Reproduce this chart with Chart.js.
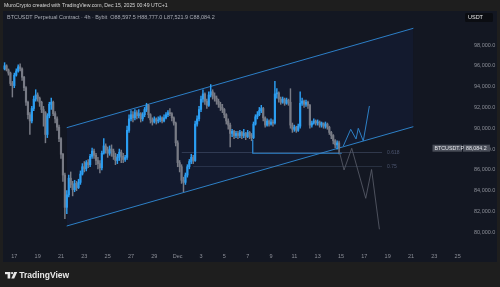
<!DOCTYPE html>
<html>
<head>
<meta charset="utf-8">
<script src="https://cdn.jsdelivr.net/npm/chart.js@4.4.1/dist/chart.umd.min.js"></script>
<style>
  html, body { margin: 0; padding: 0; background: #1e1e1e; }
</style>
</head>
<body>
<canvas id="myChart" width="500" height="287"></canvas>
<script>
// x values are days counted from Nov 1 (Dec 1 = 31)
const firstCandleDay = 16 + 4 / 24   // Nov 16 04:00
const candleHours = 4
const firstOpen = 95700

const closes = [
  96000, 95600, 95300, 94300, 94100, 95100, 95500, 95900, 95700, 94900,
  93900, 92500, 91300, 90700, 91900, 92800, 93200, 92900, 92500, 91800,
  91500, 89400, 91200, 92300, 92500, 91400, 90900, 90100, 89000, 87500,
  85500, 82400, 83600, 85200, 84600, 84100, 84700, 84300, 84800, 85600,
  86300, 86100, 86700, 86500, 87300, 87800, 87400, 86900, 86600, 86200,
  87600, 88300, 87900, 87600, 88000, 87800, 87300, 86900, 87200, 87700,
  87300, 87000, 87200, 89800, 90900, 91300, 91000, 91500, 91200, 91400,
  90900, 91300, 91800, 92200, 91300, 90800, 90600, 90900, 90700, 90800,
  91000, 90700, 91000, 91300, 91500, 91400, 91000, 90500, 88600, 86700,
  86300, 85000, 84800, 85500, 86300, 86800, 87200, 86900, 90400, 90900,
  91800, 92800, 93300, 92600, 92200, 93200, 93500, 93100, 92900, 92600,
  92300, 92000, 91800, 91300, 90700, 90300, 89500, 89700, 89300, 89500,
  89300, 89600, 89300, 89500, 89200, 89600, 89300, 89100, 90400, 91100,
  91300, 91700, 91900, 91000, 90300, 90700, 90400, 90600, 90500, 93300,
  93400, 92800, 92500, 92800, 92400, 92700, 92500, 90300, 89900, 90100,
  89800, 90200, 92400, 92600, 92300, 92500, 92200, 90300, 90500, 90700,
  90500, 90600, 90300, 90500, 90200, 90400, 90100, 89600, 89300, 88800,
  88400, 88597.5, 88084.2
]
const highs = [
  96300, 96100, 95700, 95400, 94500, 95300, 95700, 96100, 96200, 95800,
  95000, 94000, 92600, 91500, 92100, 93100, 93700, 93400, 93000, 92600,
  92100, 91600, 91400, 92500, 92900, 92600, 91600, 91100, 90300, 89100,
  87600, 85700, 84000, 85500, 85800, 84900, 85000, 84900, 85100, 85900,
  86600, 86800, 86900, 87000, 87500, 88100, 88000, 87600, 87200, 86900,
  87800, 89000, 88500, 88200, 88300, 88400, 88000, 87600, 87500, 88000,
  87900, 87600, 87400, 90200, 91300, 91700, 91600, 91800, 91700, 91800,
  91500, 91500, 92000, 92400, 92300, 91400, 91000, 91100, 91000, 91100,
  91200, 91100, 91300, 91500, 91700, 91900, 91500, 91100, 90600, 88800,
  86900, 86500, 85300, 85700, 86500, 87000, 87500, 87400, 90700, 91200,
  92100, 93100, 93700, 93400, 92800, 93500, 94200, 93700, 93400, 93100,
  92800, 92500, 92300, 91900, 91400, 90900, 90500, 89900, 89800, 89700,
  89700, 89800, 89700, 89900, 89600, 89800, 89700, 89500, 90600, 91300,
  91600, 92000, 92200, 92000, 91100, 90900, 90800, 90900, 90800, 94500,
  93800, 93500, 93000, 93000, 92900, 92900, 92800, 93800, 90500, 90300,
  90200, 90400, 93500, 92900, 92700, 92700, 92600, 92300, 90700, 90900,
  90800, 90800, 90700, 90600, 90500, 90600, 90500, 90200, 89700, 89400,
  88900, 88800, 88777
]
const lows = [
  95600, 95500, 95100, 94100, 93000, 93900, 95000, 95400, 95500, 94600,
  93600, 92200, 90900, 89400, 90500, 91700, 92600, 92600, 92100, 91500,
  90200, 88600, 89100, 91000, 91800, 91200, 90500, 89800, 88700, 87100,
  84900, 81300, 81800, 83400, 84300, 83500, 83900, 84000, 84200, 84600,
  85500, 85800, 85900, 86200, 86300, 87100, 87100, 86500, 86100, 85700,
  86000, 87500, 87600, 87200, 87400, 87300, 87000, 86500, 86600, 86900,
  86700, 86700, 86800, 87000, 89600, 90700, 90600, 90800, 90900, 91000,
  90600, 90700, 91100, 91600, 91000, 90500, 90300, 90500, 90400, 90500,
  90600, 90500, 90600, 90900, 91100, 91200, 90700, 90300, 88300, 86300,
  85800, 84700, 83900, 84600, 85300, 86100, 86600, 86600, 86800, 90200,
  90700, 91600, 92500, 92300, 91900, 92100, 93000, 92800, 92600, 92300,
  92000, 91700, 91500, 91000, 90400, 89900, 88200, 89200, 89000, 89100,
  89000, 89100, 89000, 89100, 88900, 89100, 89000, 88800, 89000, 90300,
  90900, 91200, 91500, 90700, 90100, 90200, 90200, 90300, 90200, 90400,
  92900, 92500, 92300, 92400, 92200, 92300, 92200, 90000, 89600, 89700,
  89600, 89700, 90000, 92200, 92000, 92100, 91900, 90000, 90100, 90400,
  90300, 90300, 90100, 90100, 90000, 90000, 89900, 89400, 89000, 88500,
  88100, 88000, 87521.9
]

// drawings
const channelDays = [21.49, 51.2]
const channelUpper = [90053, 99605]
const channelLower = [80606, 90149]
const boxLineDays = [37.43, 37.43, 45.06]
const boxLinePrices = [88900, 87592, 87592]
const fibStartDays = [31.35, 32.34]
const fibEndDay = 48.52
const fibLevels = [87669, 86324]
const fibNames = ['0.618', '0.75']
const bullDays = [45.20, 45.83, 46.29, 46.48, 46.91, 47.43]
const bullPrices = [88294, 89899, 88967, 89995, 88775, 92138]
const bearDays = [44.86, 45.26, 45.92, 47.12, 47.62, 48.29]
const bearPrices = [87746, 85988, 88073, 83268, 86036, 80289]

// axes
const tickDays = [17, 19, 21, 23, 25, 27, 29, 31, 33, 35, 37, 39, 41, 43, 45, 47, 49, 51, 53, 55]
const tickLabels = ['17', '19', '21', '23', '25', '27', '29', 'Dec', '3', '5', '7', '9', '11', '13', '15', '17', '19', '21', '23', '25']
const priceTicks = [80000, 82000, 84000, 86000, 88000, 90000, 92000, 94000, 96000, 98000]
const xMin = 16.03, xMax = 55.37
const yMin = 78300, yMax = 101170

const upColor = '#2b9ef2'
const downColor = '#787b85'
const drawBlue = '#2d80c6'
const axisText = '#8c8f98'

Chart.defaults.font.family = "'Liberation Sans', Arial, sans-serif"

const opens = closes.map((c, i) => i === 0 ? firstOpen : closes[i - 1])
const candleX = closes.map((c, i) => firstCandleDay + i * candleHours / 24)
const candleColor = (ctx) => closes[ctx.dataIndex] >= opens[ctx.dataIndex] ? upColor : downColor

const pts = (xs, ys) => xs.map((x, i) => ({ x: x, y: ys[i] }))

function fitText(ctx, text, x, y, width, weight) {
    ctx.font = weight + ' 10px "Liberation Sans", Arial, sans-serif'
    const size = 10 * width / ctx.measureText(text).width
    ctx.font = weight + ' ' + size.toFixed(2) + 'px "Liberation Sans", Arial, sans-serif'
    ctx.fillText(text, x, y)
}

const frame = {
    id: 'frame',
    beforeDraw(chart) {
        const ctx = chart.ctx
        ctx.save()
        ctx.fillStyle = '#1e1e1e'
        ctx.fillRect(0, 0, 500, 287)
        ctx.fillStyle = '#131722'
        ctx.fillRect(3, 11, 494, 251)
        ctx.restore()
    },
    afterDraw(chart) {
        const ctx = chart.ctx
        const x = chart.scales.x, y = chart.scales.y
        const area = chart.chartArea
        ctx.save()
        ctx.textBaseline = 'middle'

        // time axis labels
        ctx.textAlign = 'center'
        ctx.fillStyle = axisText
        ctx.font = '5.5px "Liberation Sans", Arial, sans-serif'
        tickDays.forEach((d, i) => {
            ctx.fillText(tickLabels[i], x.getPixelForValue(d), area.bottom + 6.7)
        })
        ctx.textAlign = 'left'

        // header
        ctx.fillStyle = '#d6d6d6'
        fitText(ctx, 'MuroCrypto created with TradingView.com, Dec 15, 2025 00:49 UTC+1', 4, 6, 164, 'normal')

        // title
        ctx.fillStyle = '#a9acb5'
        fitText(ctx, 'BTCUSDT Perpetual Contract · 4h · Bybit  O88,597.5 H88,777.0 L87,521.9 C88,084.2', 7, 17.3, 208, 'normal')

        // fib labels
        ctx.fillStyle = '#4d5670'
        ctx.font = '5px "Liberation Sans", Arial, sans-serif'
        fibLevels.forEach((lv, i) => {
            ctx.fillText(fibNames[i], x.getPixelForValue(fibEndDay) + 5, y.getPixelForValue(lv))
        })

        // USDT box
        ctx.fillStyle = '#0b0d12'
        ctx.beginPath()
        ctx.roundRect(465, 13, 28, 9, 1.5)
        ctx.fill()
        ctx.fillStyle = '#e6e6e6'
        ctx.font = '5.5px "Liberation Sans", Arial, sans-serif'
        ctx.fillText('USDT', 468, 17.6)

        // last price label
        const last = closes[closes.length - 1]
        const py = y.getPixelForValue(last)
        ctx.fillStyle = '#4a4e59'
        ctx.fillRect(432.5, py - 3.5, 29.5, 7)
        ctx.fillRect(463, py - 3.5, 27, 7)
        ctx.fillStyle = '#e3e5ea'
        ctx.font = '5.3px "Liberation Sans", Arial, sans-serif'
        ctx.fillText('BTCUSDT.P', 434.5, py + 0.3)
        ctx.fillText(last.toLocaleString('en-US', { minimumFractionDigits: 1 }), 466, py + 0.3)

        // TradingView logo
        ctx.fillStyle = '#e9e9e9'
        ctx.fillRect(5, 272, 5.2, 2.2)
        ctx.fillRect(7.6, 272, 2.6, 6.5)
        ctx.beginPath()
        ctx.arc(12.1, 273.1, 1.15, 0, Math.PI * 2)
        ctx.fill()
        ctx.beginPath()
        ctx.moveTo(14.2, 272)
        ctx.lineTo(17.2, 272)
        ctx.lineTo(14.2, 278.5)
        ctx.lineTo(11.3, 278.5)
        ctx.closePath()
        ctx.fill()
        fitText(ctx, 'TradingView', 19.3, 275.3, 50, 'bold')
        ctx.restore()
    }
}

const chart = new Chart(document.getElementById('myChart'), {
    type: 'bar',
    data: {
        datasets: [
            {
                type: 'line', data: pts(channelDays, channelUpper),
                borderColor: drawBlue, borderWidth: 1, pointRadius: 0, order: 10
            },
            {
                type: 'line', data: pts(channelDays, channelLower),
                borderColor: drawBlue, borderWidth: 1, pointRadius: 0, order: 9,
                fill: '-1', backgroundColor: 'rgba(41, 98, 255, 0.055)'
            },
            {
                type: 'line', data: pts([fibStartDays[0], fibEndDay], [fibLevels[0], fibLevels[0]]),
                borderColor: 'rgba(110, 130, 165, 0.45)', borderWidth: 0.7, pointRadius: 0, order: 8
            },
            {
                type: 'line', data: pts([fibStartDays[1], fibEndDay], [fibLevels[1], fibLevels[1]]),
                borderColor: 'rgba(110, 130, 165, 0.35)', borderWidth: 0.7, pointRadius: 0, order: 8
            },
            {
                type: 'bar', data: candleX.map((d, i) => ({ x: d, y: [lows[i], highs[i]] })),
                backgroundColor: candleColor, barThickness: 0.8, grouped: false, order: 3
            },
            {
                type: 'bar', data: candleX.map((d, i) => ({ x: d, y: [opens[i], closes[i]] })),
                backgroundColor: candleColor, barThickness: 1.5, grouped: false, minBarLength: 1, order: 2
            },
            {
                type: 'line', data: pts(boxLineDays, boxLinePrices),
                borderColor: drawBlue, borderWidth: 1, pointRadius: 0, order: 1
            },
            {
                type: 'line', data: pts(bullDays, bullPrices),
                borderColor: drawBlue, borderWidth: 1, pointRadius: 0, tension: 0, order: 0
            },
            {
                type: 'line', data: pts(bearDays, bearPrices),
                borderColor: '#5c606c', borderWidth: 0.8, pointRadius: 0, tension: 0, order: 0
            }
        ]
    },
    options: {
        responsive: false,
        animation: false,
        layout: { padding: { left: 3, right: 3, top: 12, bottom: 25 } },
        plugins: { legend: { display: false }, tooltip: { enabled: false } },
        scales: {
            x: {
                type: 'linear', min: xMin, max: xMax, offset: false,
                grid: { display: false }, border: { display: false },
                afterFit: (s) => { s.height = 12 },
                ticks: { display: false }
            },
            y: {
                position: 'right', min: yMin, max: yMax, beginAtZero: false,
                grid: { display: false }, border: { display: false },
                afterBuildTicks: (s) => { s.ticks = priceTicks.map(v => ({ value: v })) },
                afterFit: (s) => { s.width = 35 },
                ticks: {
                    padding: 4, color: axisText, font: { size: 5.5 },
                    callback: (v) => v.toLocaleString('en-US', { minimumFractionDigits: 1, maximumFractionDigits: 1 })
                }
            }
        }
    },
    plugins: [frame]
})
</script>
</body>
</html>
